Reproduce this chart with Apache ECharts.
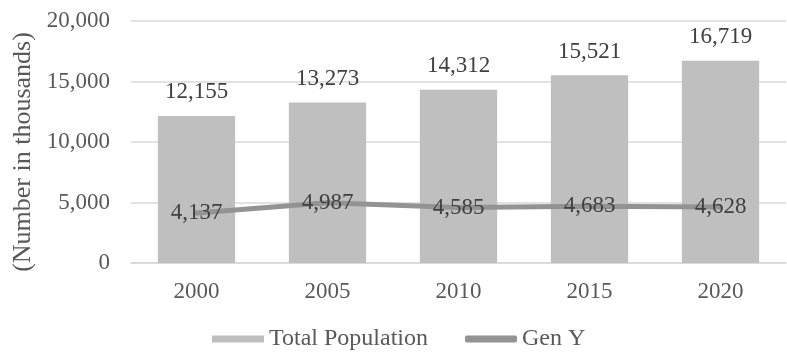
<!DOCTYPE html>
<html>
<head>
<meta charset="utf-8">
<script src="https://cdn.jsdelivr.net/npm/echarts@6/dist/echarts.min.js"></script>
<style>
  html, body {margin: 0; padding: 0; background: #fff;}
  #main {width: 787px; height: 358px;}
</style>
</head>
<body>
<div id="main"></div>
<script>
var years = ['2000', '2005', '2010', '2015', '2020'];
var totalPopulation = [12155, 13273, 14312, 15521, 16719];
var genY = [4137, 4987, 4585, 4683, 4628];

var font = '"Liberation Serif", "Times New Roman", serif';
function fmt(p) { return p.value.toLocaleString('en-US'); }

var chart = echarts.init(document.getElementById('main'));
chart.setOption({
  animation: false,
  textStyle: {fontFamily: font},
  grid: {left: 131, right: 1, top: 21, bottom: 95},
  legend: {
    left: 207,
    top: 322,
    itemWidth: 52,
    itemHeight: 7,
    itemGap: 37,
    textStyle: {fontFamily: font, fontSize: 24, color: '#595959'},
    data: [
      {name: 'Total Population', icon: 'rect'},
      {name: 'Gen Y', icon: 'roundRect'}
    ]
  },
  xAxis: {
    type: 'category',
    data: years,
    axisTick: {show: false},
    axisLine: {lineStyle: {color: '#d9d9d9', width: 1.5}},
    axisLabel: {fontFamily: font, fontSize: 23, color: '#595959', margin: 17}
  },
  yAxis: {
    type: 'value',
    min: 0,
    max: 20000,
    interval: 5000,
    name: '(Number in thousands)',
    nameLocation: 'middle',
    nameGap: 94,
    nameTextStyle: {fontFamily: font, fontSize: 26, color: '#595959', padding: [0, 0, 0, -20]},
    axisLine: {show: false},
    axisTick: {show: false},
    splitLine: {lineStyle: {color: '#d9d9d9', width: 1.5}},
    axisLabel: {
      fontFamily: font, fontSize: 23, color: '#595959', margin: 21,
      formatter: function (v) { return v.toLocaleString('en-US'); }
    }
  },
  series: [
    {
      name: 'Total Population',
      type: 'bar',
      data: totalPopulation,
      barWidth: '59%',
      itemStyle: {color: '#bfbfbf'},
      label: {
        show: true, position: 'top', distance: 12,
        fontFamily: font, fontSize: 23, color: '#404040',
        formatter: fmt
      }
    },
    {
      name: 'Gen Y',
      type: 'line',
      data: genY,
      symbol: 'circle',
      symbolSize: 5,
      showSymbol: true,
      lineStyle: {color: '#939393', width: 5},
      itemStyle: {color: '#939393'},
      label: {
        show: true, position: 'inside',
        fontFamily: font, fontSize: 23, color: '#404040',
        formatter: fmt
      }
    }
  ]
});
</script>
</body>
</html>
